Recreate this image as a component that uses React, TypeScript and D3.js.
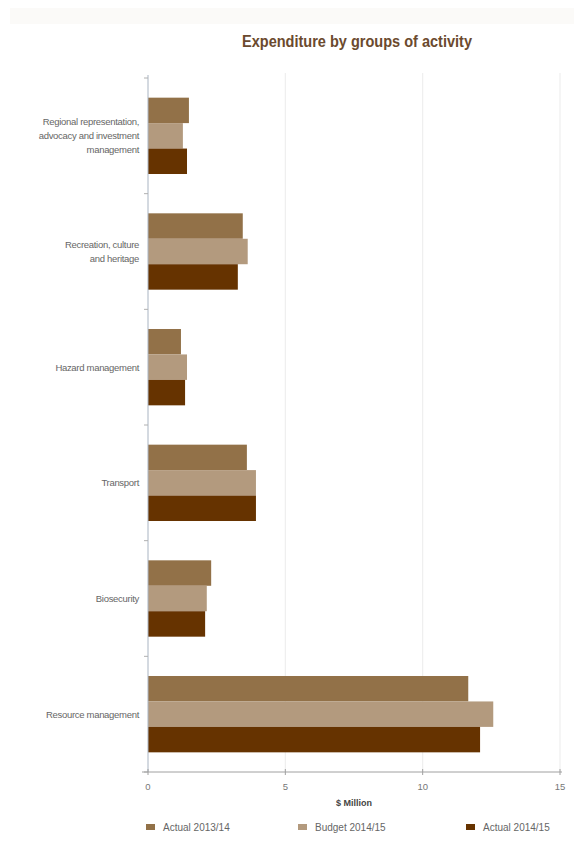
import React from "react";
import * as d3 from "d3";

const categories = [
  ["Regional representation,", "advocacy and investment", "management"],
  ["Recreation, culture", "and heritage"],
  ["Hazard management"],
  ["Transport"],
  ["Biosecurity"],
  ["Resource management"],
];
const categoryKeys = ["Regional", "Recreation", "Hazard", "Transport", "Biosecurity", "Resource"];
const seriesNames = ["Actual 2013/14", "Budget 2014/15", "Actual 2014/15"];
const actual1314 = [1.49, 3.45, 1.2, 3.6, 2.3, 11.66];
const budget1415 = [1.27, 3.63, 1.42, 3.93, 2.14, 12.57];
const actual1415 = [1.42, 3.27, 1.35, 3.93, 2.08, 12.09];
const xTicks = [0, 5, 10, 15];
const colors = ["#927148", "#b39a7e", "#663300"];

export default function App() {
  const W = 574, H = 841;
  const left = 148, right = 560, top = 78, bottom = 772;
  const x = d3.scaleLinear().domain([0, 15]).range([left, right]);
  const y = d3.scaleBand().domain(categoryKeys).range([top, bottom]).paddingInner(0.34).paddingOuter(0.17);
  const series = [actual1314, budget1415, actual1415];
  const inner = d3.scaleBand().domain(["0", "1", "2"]).range([0, y.bandwidth()]);
  const bandStep = (bottom - top) / categoryKeys.length;
  const font = "'Liberation Sans', Arial, sans-serif";
  return (
    <svg width={W} height={H} style={{ position: "absolute", left: 0, top: 0, background: "#fff" }} fontFamily={font}>
      <rect x={0} y={0} width={W} height={H} fill="#fff" />
      <rect x={10} y={8} width={564} height={16} fill="#fbfaf8" />
      <text x={357} y={47} textAnchor="middle" fontSize={16} fontWeight="bold" fill="#6b4a2e"
        textLength={230} lengthAdjust="spacingAndGlyphs">Expenditure by groups of activity</text>
      {xTicks.slice(1).map((t) => (
        <line key={"g" + t} x1={x(t)} x2={x(t)} y1={73} y2={bottom} stroke="#eeeeee" strokeWidth={1.2} />
      ))}
      {categoryKeys.map((k, i) =>
        series.map((s, j) => (
          <rect key={k + j} x={x(0)} y={(y(k) as number) + (inner(String(j)) as number)}
            width={x(s[i]) - x(0)} height={inner.bandwidth()} fill={colors[j]} />
        ))
      )}
      <line x1={left} x2={left} y1={75} y2={bottom} stroke="#a9b4c2" strokeWidth={1} />
      {d3.range(categoryKeys.length + 1).map((i) => (
        <line key={"yt" + i} x1={left - 4} x2={left} y1={top + i * bandStep} y2={top + i * bandStep} stroke="#b0b0b0" />
      ))}
      <line x1={left - 6} x2={right + 2} y1={bottom} y2={bottom} stroke="#a0a0a0" strokeWidth={1} />
      {xTicks.map((t) => (
        <g key={"xt" + t}>
          <line x1={x(t)} x2={x(t)} y1={bottom - 3} y2={bottom + 3} stroke="#a0a0a0" />
          <text x={x(t)} y={bottom + 18} textAnchor="middle" fontSize={9.5} fill="#777">{t}</text>
        </g>
      ))}
      <text x={354} y={806} textAnchor="middle" fontSize={9} fontWeight="bold" fill="#444">$ Million</text>
      {categories.map((lines, i) => {
        const cy = (y(categoryKeys[i]) as number) + y.bandwidth() / 2;
        const lh = 14;
        const y0 = cy - ((lines.length - 1) * lh) / 2 + 3.5;
        return (
          <text key={"c" + i} textAnchor="end" fontSize={9.5} fill="#666" letterSpacing={-0.3}>
            {lines.map((l, k) => (
              <tspan key={k} x={139} y={y0 + k * lh}>{l}</tspan>
            ))}
          </text>
        );
      })}
      {seriesNames.map((n, j) => {
        const lx = [146, 298, 466][j];
        return (
          <g key={"lg" + n}>
            <rect x={lx} y={824} width={9} height={6} fill={colors[j]} />
            <text x={lx + 17} y={831} fontSize={10} fill="#666">{n}</text>
          </g>
        );
      })}
    </svg>
  );
}
